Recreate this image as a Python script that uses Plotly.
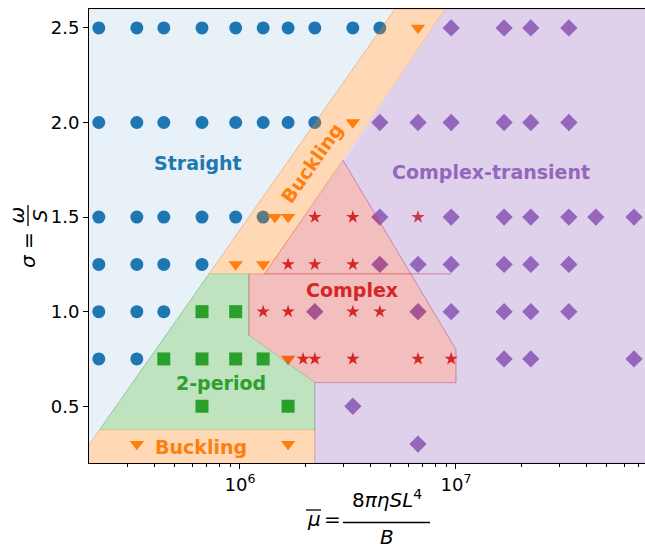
import plotly.graph_objects as go

# ---------------- data ----------------
straight_x = [2.22e5, 3.33e5, 4.44e5, 6.67e5, 9.55e5, 1.28e6, 1.67e6, 2.22e6, 3.33e6, 4.44e6,
              2.22e5, 3.33e5, 4.44e5, 6.67e5, 9.55e5, 1.28e6, 1.67e6, 2.22e6,
              2.22e5, 3.33e5, 4.44e5, 6.67e5, 9.55e5, 1.28e6,
              2.22e5, 3.33e5, 4.44e5, 6.67e5,
              2.22e5, 3.33e5, 4.44e5,
              2.22e5, 3.33e5]
straight_y = [2.5, 2.5, 2.5, 2.5, 2.5, 2.5, 2.5, 2.5, 2.5, 2.5,
              2.0, 2.0, 2.0, 2.0, 2.0, 2.0, 2.0, 2.0,
              1.5, 1.5, 1.5, 1.5, 1.5, 1.5,
              1.25, 1.25, 1.25, 1.25,
              1.0, 1.0, 1.0,
              0.75, 0.75]

buckling_x = [6.67e6, 3.33e6, 1.45e6, 1.67e6, 9.55e5, 1.28e6, 1.67e6, 3.33e5, 1.67e6]
buckling_y = [2.5, 2.0, 1.5, 1.5, 1.25, 1.25, 0.75, 0.3, 0.3]

period2_x = [6.67e5, 9.55e5, 4.44e5, 6.67e5, 9.55e5, 1.28e6, 6.67e5, 1.67e6]
period2_y = [1.0, 1.0, 0.75, 0.75, 0.75, 0.75, 0.5, 0.5]

complex_x = [2.22e6, 3.33e6, 6.67e6, 1.67e6, 2.22e6, 3.33e6, 1.28e6, 1.67e6, 3.33e6, 4.44e6,
             1.96e6, 2.22e6, 3.33e6, 6.67e6, 9.5e6]
complex_y = [1.5, 1.5, 1.5, 1.25, 1.25, 1.25, 1.0, 1.0, 1.0, 1.0,
             0.75, 0.75, 0.75, 0.75, 0.75]

transient_x = [9.5e6, 1.67e7, 2.22e7, 3.33e7,
               4.44e6, 6.67e6, 9.5e6, 1.67e7, 2.22e7, 3.33e7,
               4.44e6, 9.5e6, 1.67e7, 2.22e7, 3.33e7, 4.44e7, 6.67e7,
               4.44e6, 6.67e6, 9.5e6, 1.67e7, 2.22e7, 3.33e7,
               2.22e6, 6.67e6, 9.5e6, 1.67e7, 2.22e7, 3.33e7,
               1.67e7, 2.22e7, 6.67e7,
               3.33e6,
               6.67e6]
transient_y = [2.5, 2.5, 2.5, 2.5,
               2.0, 2.0, 2.0, 2.0, 2.0, 2.0,
               1.5, 1.5, 1.5, 1.5, 1.5, 1.5, 1.5,
               1.25, 1.25, 1.25, 1.25, 1.25, 1.25,
               1.0, 1.0, 1.0, 1.0, 1.0, 1.0,
               0.75, 0.75, 0.75,
               0.5,
               0.3]

# region boundaries (vertices)
reg_straight_x = [1e5, 5.22e6, 1.744e5, 1e5]
reg_straight_y = [2.6, 2.6, 0.2, 0.2]
reg_band_x = [7.19e5, 5.22e6, 8.9e6, 1.30e6]
reg_band_y = [1.2, 2.6, 2.6, 1.2]
reg_low_x = [1.744e5, 2.234e5, 2.22e6, 2.22e6]
reg_low_y = [0.2, 0.375, 0.375, 0.2]
reg_2p_x = [2.234e5, 7.19e5, 1.1e6, 1.1e6, 2.22e6, 2.22e6]
reg_2p_y = [0.375, 1.2, 1.2, 0.875, 0.625, 0.375]
reg_cx_x = [1.1e6, 1.1e6, 9.5e6, 1.30e6, 3.0e6, 1.0e7, 1.0e7, 2.22e6]
reg_cx_y = [0.875, 1.2, 1.2, 1.2, 1.8, 0.8, 0.625, 0.625]
reg_tr_x = [8.9e6, 1e9, 1e9, 2.22e6, 2.22e6, 1.0e7, 1.0e7, 3.0e6]
reg_tr_y = [2.6, 2.6, 0.2, 0.2, 0.625, 0.625, 0.8, 1.8]

# region labels: (text, log10 x, y, colour, angle)
labels = [
    ("Straight", 5.8056, 1.785, "#1f77b4", 0),
    ("Buckling", 6.333, 1.785, "#ff7f0e", -55),
    ("Complex-transient", 7.1634, 1.736, "#9467bd", 0),
    ("Complex", 6.517, 1.114, "#d62728", 0),
    ("2-period", 5.9106, 0.6205, "#2ca02c", 0),
    ("Buckling", 5.8194, 0.285, "#ff7f0e", 0),
]

FONT = "DejaVu Sans"
BLUE, ORANGE, GREEN, RED, PURPLE = "#1f77b4", "#ff7f0e", "#2ca02c", "#d62728", "#9467bd"

fig = go.Figure()

def pts(x, y, color, symbol, size):
    fig.add_trace(go.Scatter(x=x, y=y, mode="markers",
                             marker=dict(color=color, symbol=symbol, size=size, line=dict(width=0)),
                             showlegend=False, hoverinfo="skip"))

pts(straight_x, straight_y, BLUE, "circle", 13)
pts(buckling_x, buckling_y, ORANGE, "triangle-down", 12.5)
pts(period2_x, period2_y, GREEN, "square", 13)
pts(complex_x, complex_y, RED, "star", 10)
pts(transient_x, transient_y, PURPLE, "diamond", 13.3)

def region(x, y, rgb, alpha):
    c = "rgba(%d,%d,%d,%g)" % (rgb[0], rgb[1], rgb[2], alpha)
    fig.add_trace(go.Scatter(x=x, y=y, mode="lines", fill="toself", fillcolor=c,
                             line=dict(color=c, width=1), showlegend=False, hoverinfo="skip"))

region(reg_straight_x, reg_straight_y, (31, 119, 180), 0.1)
region(reg_2p_x, reg_2p_y, (44, 160, 44), 0.3)
region(reg_band_x, reg_band_y, (255, 127, 14), 0.3)
region(reg_low_x, reg_low_y, (255, 127, 14), 0.3)
region(reg_cx_x, reg_cx_y, (214, 39, 40), 0.3)
region(reg_tr_x, reg_tr_y, (148, 103, 189), 0.3)

for text, lx, ly, col, ang in labels:
    fig.add_annotation(x=lx, y=ly, xref="x", yref="y", text="<b>%s</b>" % text,
                       showarrow=False, textangle=ang,
                       font=dict(family=FONT, size=19, color=col),
                       xanchor="center", yanchor="middle")

L, T, W, H = 89, 9, 556, 454

def pxx(px):
    return (px - L) / W

def pxy(py):
    return (T + H - py) / H

def lab(text, px, py, size=20, angle=0):
    fig.add_annotation(x=pxx(px), y=pxy(py), xref="paper", yref="paper", text=text,
                       showarrow=False, textangle=angle, xanchor="center", yanchor="middle",
                       font=dict(family=FONT, size=size, color="black"))

# x label:  mu-bar = 8 pi eta S L^4 / B
lab("<i>μ</i>", 313.5, 519)
lab("=", 332.5, 519)
lab("8<i>πηSL</i><sup>4</sup>", 386.5, 499)
lab("<i>B</i>", 386.5, 537)
fig.add_shape(type="line", xref="paper", yref="paper", x0=pxx(306), x1=pxx(321),
              y0=pxy(510), y1=pxy(510), line=dict(color="black", width=1.3))
fig.add_shape(type="line", xref="paper", yref="paper", x0=pxx(343), x1=pxx(430),
              y0=pxy(522.5), y1=pxy(522.5), line=dict(color="black", width=1.3))

# y label: sigma = omega / S
lab("<i>σ</i> =", 28, 250, angle=-90)
lab("<i>ω</i>", 16, 215.5, angle=-90)
lab("<i>S</i>", 39.5, 215.5, angle=-90)
fig.add_shape(type="line", xref="paper", yref="paper", x0=pxx(28), x1=pxx(28),
              y0=pxy(205), y1=pxy(226), line=dict(color="black", width=1.3))

minor_vals = [3e5, 4e5, 5e5, 6e5, 7e5, 8e5, 9e5,
              2e6, 3e6, 4e6, 5e6, 6e6, 7e6, 8e6, 9e6,
              2e7, 3e7, 4e7, 5e7, 6e7, 7e7]

fig.update_layout(
    width=645, height=544,
    margin=dict(l=L, r=0, t=T, b=544 - T - H, autoexpand=False),
    paper_bgcolor="white", plot_bgcolor="white",
    showlegend=False, hovermode=False,
    xaxis=dict(type="log", range=[5.301, 7.875], showgrid=False, zeroline=False,
               showline=True, linecolor="black", linewidth=1, mirror=True,
               ticks="outside", ticklen=5, tickwidth=1, tickcolor="black",
               tickvals=[1e6, 1e7], ticktext=["10<sup>6</sup>", "10<sup>7</sup>"],
               tickfont=dict(family=FONT, size=18, color="black"),
               minor=dict(ticks="outside", ticklen=3, tickwidth=0.8, tickcolor="black",
                          tickvals=minor_vals, showgrid=False),
               automargin=False),
    yaxis=dict(range=[0.2, 2.6], showgrid=False, zeroline=False,
               showline=True, linecolor="black", linewidth=1,
               ticks="outside", ticklen=5, tickwidth=1, tickcolor="black",
               tickvals=[0.5, 1.0, 1.5, 2.0, 2.5], ticktext=["0.5", "1.0", "1.5", "2.0", "2.5"],
               tickfont=dict(family=FONT, size=18, color="black"),
               automargin=False),
)

fig.write_html("out.html", config={"displayModeBar": False},
               post_script="document.body.style.margin='0';document.body.style.overflow='hidden';"
                           "document.documentElement.style.overflow='hidden';")
